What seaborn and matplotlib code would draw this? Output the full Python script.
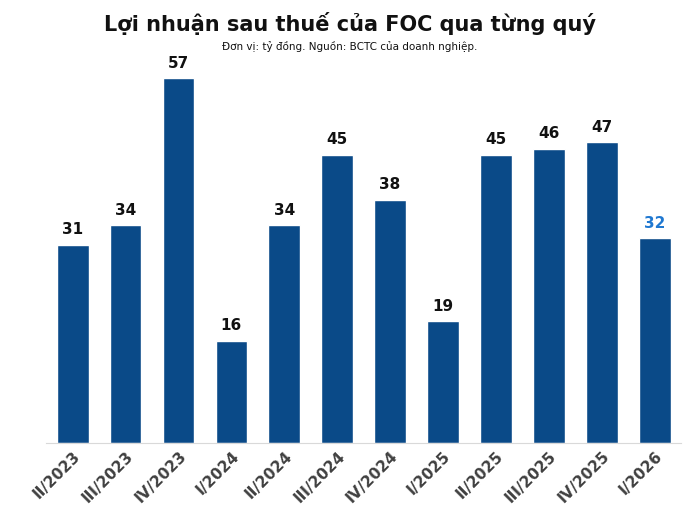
import matplotlib
matplotlib.use("Agg")
import matplotlib.pyplot as plt
import seaborn as sns
import pandas as pd

quarters = ["II/2023","III/2023","IV/2023","I/2024","II/2024","III/2024","IV/2024",
            "I/2025","II/2025","III/2025","IV/2025","I/2026"]
profit = [31, 34, 57, 16, 34, 45, 38, 19, 45, 46, 47, 32]

sns.set_style("white")
plt.rcParams['font.family'] = ['DejaVu Sans']
df = pd.DataFrame({"q": quarters, "v": profit})

fig = plt.figure(figsize=(7.0, 5.23), dpi=100)
ax = fig.add_axes([0.066, 0.153, 0.907, 0.734])
sns.barplot(data=df, x="q", y="v", color="#0a4a88", saturation=1, width=0.6, ax=ax)
ax.set_xlim(-0.5, len(quarters) - 0.5)
ax.set_ylim(0, 60)
for i, v in enumerate(profit):
    ax.text(i, v + 1.2, str(v), ha="center", va="bottom", fontsize=11, fontweight="bold",
            color="#1f78d1" if i == len(profit) - 1 else "#111111")
ax.set_xlabel(""); ax.set_ylabel("")
ax.set_yticks([])
for s in ["top", "right", "left"]:
    ax.spines[s].set_visible(False)
ax.spines["bottom"].set_color("#d9d9d9")
ax.tick_params(axis="x", length=0, pad=4)
plt.setp(ax.get_xticklabels(), rotation=45, ha="right", rotation_mode="anchor",
         fontsize=11, fontweight="bold", color="#404040")
fig.text(0.5, 0.955, "Lợi nhuận sau thuế của FOC qua từng quý", ha="center", va="center",
         fontsize=15, fontweight="bold", color="#111111")
fig.text(0.5, 0.912, "Đơn vị: tỷ đồng. Nguồn: BCTC của doanh nghiệp.", ha="center", va="center",
         fontsize=7.5, color="#111111")
fig.savefig("out.png", dpi=100)
